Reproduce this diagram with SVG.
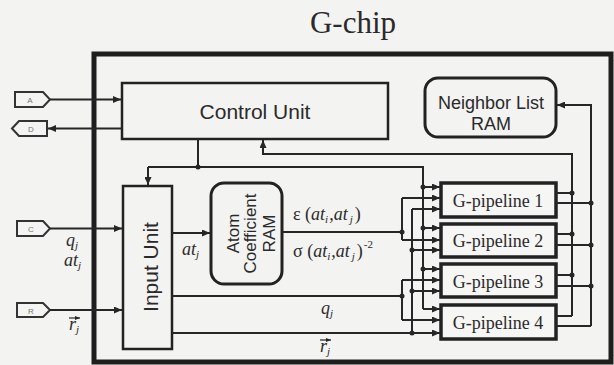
<svg xmlns="http://www.w3.org/2000/svg" width="614" height="365" viewBox="0 0 614 365">
<style>
.ln{fill:none;stroke:#262626;stroke-width:2}
.ar{fill:none;stroke:#262626;stroke-width:2;marker-end:url(#ah)}
.box{fill:none;stroke:#222;stroke-width:2.5}
.pb{fill:#f6f6f4;stroke:#222;stroke-width:3.5}
.rb{fill:none;stroke:#222;stroke-width:3}
.port{fill:#f4f4f2;stroke:#333;stroke-width:2}
.pl{font-family:"Liberation Sans",Arial,sans-serif;font-size:8px;fill:#777;text-anchor:middle}
.sans{font-family:"Liberation Sans",Arial,sans-serif;fill:#2a2a2a;text-anchor:middle}
.serif{font-family:"Liberation Serif","Times New Roman",serif;fill:#2a2a2a}
.m{font-family:"Liberation Serif","Times New Roman",serif;font-style:italic;font-size:18px;fill:#2a2a2a}
.sub{font-size:11px}
.dot{fill:#262626}
</style>
<defs>
<marker id="ah" markerWidth="8" markerHeight="7" refX="8" refY="3.5" orient="auto" markerUnits="userSpaceOnUse">
<path d="M0,0 L8,3.5 L0,7 z" fill="#262626"/>
</marker>
<marker id="sa" markerWidth="5" markerHeight="4" refX="5" refY="2" orient="auto" markerUnits="userSpaceOnUse">
<path d="M0,0 L5,2 L0,4 z" fill="#262626"/>
</marker>
</defs>
<rect width="614" height="365" fill="#f3f3f1"/>
<text class="serif" x="353" y="33" font-size="31" text-anchor="middle">G-chip</text>
<g id="chip"><rect x="94" y="54" width="517" height="308" fill="none" stroke="#1e1e1e" stroke-width="5"/></g>

<g id="port-A"><polygon class="port" points="15,92 43,92 50,99.5 43,107 15,107"/><text class="pl" x="30" y="103">A</text></g>
<g id="port-D"><polygon class="port" points="12,128.5 19,121 47,121 47,136 19,136"/><text class="pl" x="31" y="132">D</text></g>
<g id="port-C"><polygon class="port" points="17,221 43,221 50,228.5 43,236 17,236"/><text class="pl" x="31" y="232">C</text></g>
<g id="port-R"><polygon class="port" points="17,303 43,303 50,310 43,317 17,317"/><text class="pl" x="31" y="314">R</text></g>

<g id="control-unit"><rect class="box" x="122" y="83" width="266" height="56"/><text class="sans" x="255" y="119" font-size="21">Control Unit</text></g>
<g id="neighbor-list-ram"><rect class="rb" x="425" y="78" width="131" height="59" rx="13"/><text class="sans" x="491" y="109" font-size="18">Neighbor List</text><text class="sans" x="491" y="130" font-size="18">RAM</text></g>
<g id="input-unit"><rect class="box" x="123" y="186" width="49" height="163"/><text class="sans" transform="translate(158,267) rotate(-90)" font-size="21">Input Unit</text></g>
<g id="atom-coefficient-ram"><rect class="rb" x="211" y="183" width="71" height="101" rx="13"/>
<text class="sans" transform="translate(239,233.5) rotate(-90)" font-size="17">Atom</text>
<text class="sans" transform="translate(256,233.5) rotate(-90)" font-size="17">Coefficient</text>
<text class="sans" transform="translate(275,233.5) rotate(-90)" font-size="17">RAM</text></g>
<g id="g-pipeline-1"><rect class="pb" x="441" y="183" width="115" height="34"/><text class="serif" x="498" y="207" font-size="18" text-anchor="middle">G-pipeline 1</text></g>
<g id="g-pipeline-2"><rect class="pb" x="441" y="224" width="115" height="33"/><text class="serif" x="498" y="247" font-size="18" text-anchor="middle">G-pipeline 2</text></g>
<g id="g-pipeline-3"><rect class="pb" x="441" y="264" width="115" height="33"/><text class="serif" x="498" y="288" font-size="18" text-anchor="middle">G-pipeline 3</text></g>
<g id="g-pipeline-4"><rect class="pb" x="441" y="305" width="115" height="34"/><text class="serif" x="498" y="329" font-size="18" text-anchor="middle">G-pipeline 4</text></g>

<g id="connectors">
<path class="ar" d="M50,99.5 H121"/>
<path class="ar" d="M122,128.5 H48"/>
<path class="ar" d="M50,228.5 H122"/>
<path class="ar" d="M50,310 H122"/>
<path class="ln" d="M198,139 V167"/>
<path class="ln" d="M148,167 H423 V309"/>
<path class="ar" d="M148,167 V185"/>
<path class="ar" d="M423,187 H440"/>
<path class="ar" d="M423,228 H440"/>
<path class="ar" d="M423,269 H440"/>
<path class="ar" d="M423,309 H440"/>
<path class="ar" d="M172,233 H210"/>
<path class="ln" d="M282,232 H402"/>
<path class="ln" d="M402,198 V240"/>
<path class="ar" d="M402,198 H440"/>
<path class="ar" d="M402,240 H440"/>
<path class="ln" d="M172,296 H402"/>
<path class="ln" d="M402,280 V320"/>
<path class="ar" d="M402,280 H440"/>
<path class="ar" d="M402,320 H440"/>
<path class="ar" d="M172,333 H440"/>
<path class="ln" d="M412,209 V333"/>
<path class="ar" d="M412,209 H440"/>
<path class="ar" d="M412,250 H440"/>
<path class="ar" d="M412,291 H440"/>
<path class="ln" d="M556,193 H572 M556,234 H572 M556,275 H572 M556,316 H572"/>
<path class="ar" d="M572,316 V154 H263 V140"/>
<path class="ln" d="M556,203 H591 M556,245 H591 M556,286 H591 M556,326 H591"/>
<path class="ar" d="M591,326 V105 H557"/>
<circle class="dot" cx="198" cy="167" r="2.5"/>
<circle class="dot" cx="423" cy="187" r="2.5"/>
<circle class="dot" cx="423" cy="228" r="2.5"/>
<circle class="dot" cx="423" cy="269" r="2.5"/>
<circle class="dot" cx="402" cy="232" r="2.5"/>
<circle class="dot" cx="402" cy="296" r="2.5"/>
<circle class="dot" cx="412" cy="250" r="2.5"/>
<circle class="dot" cx="412" cy="291" r="2.5"/>
<circle class="dot" cx="412" cy="333" r="2.5"/>
<circle class="dot" cx="572" cy="193" r="2.5"/>
<circle class="dot" cx="572" cy="234" r="2.5"/>
<circle class="dot" cx="572" cy="275" r="2.5"/>
<circle class="dot" cx="591" cy="203" r="2.5"/>
<circle class="dot" cx="591" cy="245" r="2.5"/>
<circle class="dot" cx="591" cy="286" r="2.5"/>
</g>

<g id="labels">
<text class="m" x="66" y="246">q<tspan class="sub" dy="3">j</tspan></text>
<text class="m" x="64" y="266">at<tspan class="sub" dy="3">j</tspan></text>
<text class="m" x="69" y="330">r<tspan class="sub" dy="3">j</tspan></text>
<path d="M69,318 H80" stroke="#262626" stroke-width="1.2" marker-end="url(#sa)"/>
<text class="m" x="182" y="255">at<tspan class="sub" dy="3">j</tspan></text>
<text class="m" x="293" y="220" font-size="19"><tspan font-style="normal">ε (</tspan>at<tspan class="sub" dy="3">i</tspan><tspan dx="1" dy="-3" font-style="normal">,</tspan>at<tspan dx="2" class="sub" dy="3">j</tspan><tspan dx="2" dy="-3" font-style="normal">)</tspan></text>
<text class="m" x="293" y="257" font-size="19"><tspan font-style="normal">σ (</tspan>at<tspan class="sub" dy="3">i</tspan><tspan dx="1" dy="-3" font-style="normal">,</tspan>at<tspan dx="2" class="sub" dy="3">j</tspan><tspan dx="2" dy="-3" font-style="normal">)</tspan><tspan class="sub" dx="1" dy="-9" font-style="normal">-2</tspan></text>
<text class="m" x="321" y="314">q<tspan class="sub" dy="3">j</tspan></text>
<text class="m" x="320" y="352">r<tspan class="sub" dy="3">j</tspan></text>
<path d="M320,340 H331" stroke="#262626" stroke-width="1.2" marker-end="url(#sa)"/>
</g>
</svg>
